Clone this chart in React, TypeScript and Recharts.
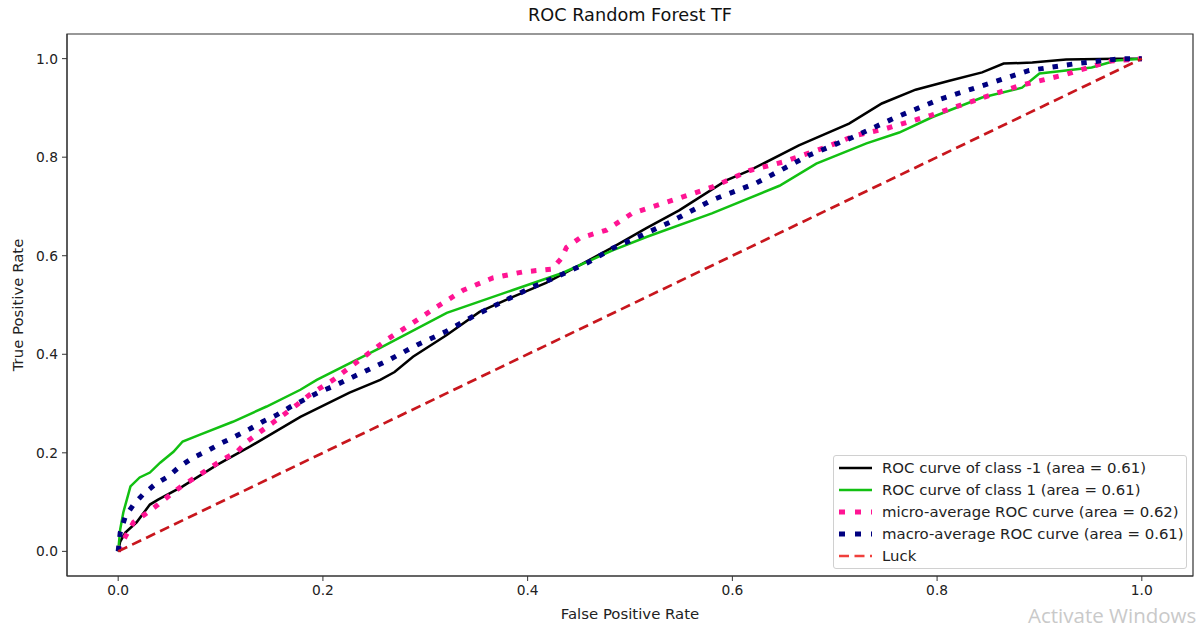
import {
  Legend,
  Line,
  LineChart,
  ReferenceArea,
  XAxis,
  YAxis,
} from "recharts";

const FONT = "'DejaVu Sans', Verdana, sans-serif";

const AXIS_TICKS = [0, 0.2, 0.4, 0.6, 0.8, 1.0];

// class -1
const NEG_FPR = [0, 0.002, 0.007, 0.018, 0.031, 0.039, 0.063, 0.097, 0.129, 0.178, 0.226, 0.256, 0.27, 0.288, 0.321, 0.353, 0.385, 0.418, 0.451, 0.483, 0.516, 0.548, 0.594, 0.617, 0.665, 0.714, 0.746, 0.779, 0.812, 0.844, 0.865, 0.893, 0.926, 0.975, 1];
const NEG_TPR = [0, 0.02, 0.038, 0.059, 0.095, 0.105, 0.132, 0.176, 0.213, 0.273, 0.322, 0.348, 0.364, 0.395, 0.439, 0.486, 0.516, 0.545, 0.581, 0.617, 0.656, 0.692, 0.753, 0.773, 0.824, 0.868, 0.909, 0.937, 0.955, 0.972, 0.99, 0.992, 0.998, 1, 1];

// class 1
const POS_FPR = [0, 0.002, 0.005, 0.012, 0.021, 0.031, 0.041, 0.054, 0.063, 0.08, 0.112, 0.145, 0.178, 0.194, 0.256, 0.321, 0.385, 0.434, 0.483, 0.516, 0.58, 0.646, 0.682, 0.731, 0.763, 0.795, 0.844, 0.883, 0.9, 0.926, 0.951, 0.975, 1];
const POS_TPR = [0, 0.045, 0.079, 0.132, 0.15, 0.16, 0.18, 0.202, 0.223, 0.237, 0.263, 0.294, 0.328, 0.348, 0.413, 0.484, 0.53, 0.565, 0.611, 0.638, 0.686, 0.742, 0.787, 0.828, 0.85, 0.881, 0.921, 0.941, 0.97, 0.976, 0.982, 0.996, 1];

// micro-average
const MICRO_FPR = [0, 0.007, 0.015, 0.026, 0.039, 0.051, 0.063, 0.077, 0.09, 0.102, 0.116, 0.126, 0.139, 0.151, 0.175, 0.187, 0.21, 0.262, 0.288, 0.311, 0.337, 0.366, 0.395, 0.424, 0.433, 0.438, 0.451, 0.477, 0.502, 0.548, 0.58, 0.617, 0.649, 0.691, 0.72, 0.75, 0.794, 0.838, 0.88, 0.924, 0.969, 1];
const MICRO_TPR = [0, 0.03, 0.059, 0.075, 0.095, 0.115, 0.134, 0.152, 0.17, 0.186, 0.202, 0.223, 0.243, 0.261, 0.298, 0.318, 0.348, 0.429, 0.464, 0.496, 0.53, 0.555, 0.567, 0.573, 0.595, 0.617, 0.636, 0.652, 0.686, 0.717, 0.739, 0.773, 0.79, 0.82, 0.844, 0.858, 0.885, 0.916, 0.945, 0.967, 0.995, 1];

// macro-average
const MACRO_FPR = [0, 0.002, 0.007, 0.015, 0.024, 0.036, 0.049, 0.06, 0.073, 0.087, 0.101, 0.114, 0.129, 0.141, 0.155, 0.168, 0.181, 0.195, 0.209, 0.265, 0.292, 0.319, 0.346, 0.373, 0.402, 0.428, 0.458, 0.483, 0.512, 0.539, 0.58, 0.623, 0.675, 0.717, 0.76, 0.802, 0.844, 0.89, 0.936, 0.98, 1];
const MACRO_TPR = [0, 0.038, 0.071, 0.095, 0.115, 0.136, 0.152, 0.172, 0.19, 0.204, 0.22, 0.233, 0.249, 0.263, 0.277, 0.293, 0.307, 0.322, 0.334, 0.389, 0.419, 0.445, 0.476, 0.504, 0.534, 0.557, 0.585, 0.615, 0.642, 0.668, 0.713, 0.747, 0.804, 0.84, 0.881, 0.917, 0.945, 0.976, 0.99, 1, 1];

const LUCK_FPR = [0, 1];
const LUCK_TPR = [0, 1];

const zip = (fpr: number[], tpr: number[]) => fpr.map((x, i) => ({ fpr: x, tpr: tpr[i] }));

const SERIES = [
  { key: "neg", label: "ROC curve of class -1 (area = 0.61)", data: zip(NEG_FPR, NEG_TPR), color: "#000000", legendColor: "#000000", width: 2.5, dash: undefined },
  { key: "pos", label: "ROC curve of class 1 (area = 0.61)", data: zip(POS_FPR, POS_TPR), color: "#12c012", legendColor: "#12c012", width: 2.5, dash: undefined },
  { key: "micro", label: "micro-average ROC curve (area = 0.62)", data: zip(MICRO_FPR, MICRO_TPR), color: "#ff1493", legendColor: "#ff1493", width: 5, dash: "5.5 9" },
  { key: "macro", label: "macro-average ROC curve (area = 0.61)", data: zip(MACRO_FPR, MACRO_TPR), color: "#000080", legendColor: "#000080", width: 5, dash: "5.5 9" },
  { key: "luck", label: "Luck", data: zip(LUCK_FPR, LUCK_TPR), color: "#c8161d", legendColor: "#f0403c", width: 2.7, dash: "10 5.5" },
];

const tickStyle = { fill: "#222", fontSize: 13.8, fontFamily: FONT };
const labelStyle = { fill: "#222", fontSize: 14.9, fontFamily: FONT };

function LegendBox() {
  return (
    <div
      style={{
        width: 352,
        height: 111,
        border: "1px solid #d0d0d0",
        borderRadius: 3,
        background: "rgba(255,255,255,0.85)",
        paddingTop: 1,
        boxSizing: "content-box",
        fontFamily: FONT,
        fontSize: 14.9,
        color: "#222",
      }}
    >
      {SERIES.map((s) => {
        const dotted = s.key === "micro" || s.key === "macro";
        return (
          <div key={s.key} style={{ display: "flex", alignItems: "center", height: 22 }}>
            <svg width={44} height={22} style={{ marginLeft: 4, flex: "none" }}>
              <line
                x1={1}
                y1={11}
                x2={34}
                y2={11}
                stroke={s.legendColor}
                strokeWidth={dotted ? 5 : s.width}
                strokeDasharray={dotted ? "6 10" : s.dash}
              />
            </svg>
            <span style={{ whiteSpace: "nowrap" }}>{s.label}</span>
          </div>
        );
      })}
    </div>
  );
}

export default function App() {
  return (
    <div style={{ position: "absolute", left: 0, top: 0, width: 1204, height: 632, background: "#fff", overflow: "hidden" }}>
      <div
        style={{
          position: "absolute",
          left: 67,
          width: 1126,
          top: 5,
          textAlign: "center",
          fontFamily: FONT,
          fontSize: 17.7,
          color: "#111",
        }}
      >
        ROC Random Forest TF
      </div>
      <LineChart width={1204} height={632} margin={{ top: 34, right: 11, bottom: 0, left: 0 }}>
        <XAxis
          type="number"
          dataKey="fpr"
          domain={[-0.05, 1.05]}
          ticks={AXIS_TICKS}
          tickFormatter={(v: number) => v.toFixed(1)}
          allowDataOverflow
          height={56}
          tick={tickStyle}
          tickSize={5}
          tickMargin={4}
          tickLine={{ stroke: "#333" }}
          axisLine={{ stroke: "#333" }}
          label={{
            value: "False Positive Rate",
            position: "insideBottom",
            offset: 13,
            style: labelStyle,
          }}
        />
        <YAxis
          type="number"
          dataKey="tpr"
          domain={[-0.05, 1.05]}
          ticks={AXIS_TICKS}
          tickFormatter={(v: number) => v.toFixed(1)}
          allowDataOverflow
          width={67}
          tick={tickStyle}
          tickSize={5}
          tickMargin={4}
          tickLine={{ stroke: "#333" }}
          axisLine={{ stroke: "#333" }}
          label={{
            value: "True Positive Rate",
            angle: -90,
            position: "insideLeft",
            offset: 18,
            style: { ...labelStyle, textAnchor: "middle" },
          }}
        />
        <ReferenceArea x1={-0.05} x2={1.05} y1={-0.05} y2={1.05} fill="none" stroke="#333" strokeWidth={1.2} />
        {SERIES.map((s) => (
          <Line
            key={s.key}
            data={s.data}
            dataKey="tpr"
            name={s.label}
            type="linear"
            stroke={s.color}
            strokeWidth={s.width}
            strokeDasharray={s.dash}
            dot={false}
            activeDot={false}
            isAnimationActive={false}
          />
        ))}
        <Legend
          layout="vertical"
          align="center"
          verticalAlign="middle"
          wrapperStyle={{ left: 833, top: 455, width: 354 }}
          content={() => <LegendBox />}
        />
      </LineChart>
      <div
        style={{
          position: "absolute",
          left: 1028,
          top: 602,
          fontFamily: "'Open Sans', 'Noto Sans', sans-serif",
          fontSize: 20.5,
          lineHeight: "26px",
          color: "#c9c9c9",
          whiteSpace: "nowrap",
        }}
      >
        Activate Windows
      </div>
    </div>
  );
}
